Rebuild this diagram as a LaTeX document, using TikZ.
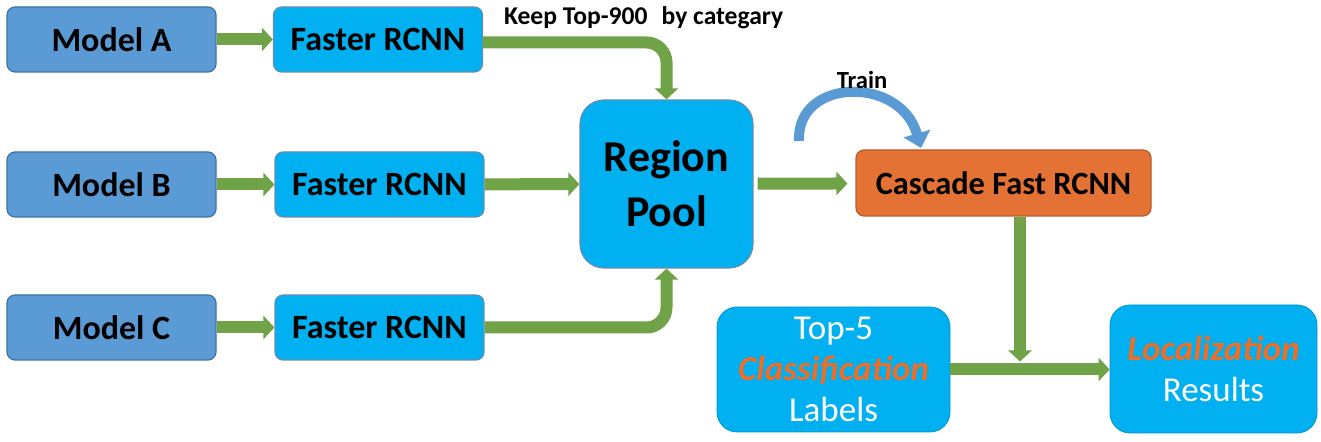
\documentclass[tikz,border=0pt]{standalone}
\usepackage{fontspec}
\setmainfont{Carlito}
\usetikzlibrary{arrows.meta,positioning,calc}
\definecolor{modelblue}{RGB}{91,155,213}
\definecolor{modeledge}{RGB}{65,113,156}
\definecolor{rcnnblue}{RGB}{0,176,240}
\definecolor{cascorange}{RGB}{228,114,52}
\definecolor{flowgreen}{RGB}{112,163,72}
\definecolor{hilite}{RGB}{237,110,40}
\tikzset{
  modelbox/.style={draw=modeledge, line width=0.6pt, fill=modelblue, rounded corners=4pt,
    minimum width=104.5pt, minimum height=32.5pt, inner sep=0pt,
    font=\bfseries\fontsize{17}{20}\selectfont, text=black},
  rcnnbox/.style={modelbox, draw=modeledge!80, fill=rcnnblue},
  poolbox/.style={rcnnbox, rounded corners=12pt, minimum width=86.5pt, minimum height=84pt,
    align=center, font=\bfseries\fontsize{22}{27.5}\selectfont},
  cascbox/.style={modelbox, draw=cascorange!80!black, fill=cascorange, minimum width=147.5pt,
    minimum height=33pt, font=\bfseries\fontsize{16.2}{19}\selectfont},
  outbox/.style={draw=rcnnblue!85!black, line width=0.4pt, fill=rcnnblue, rounded corners=10pt,
    inner sep=0pt, align=center, text=white, font=\fontsize{17.5}{20.5}\selectfont},
  flow/.style={-{Triangle[length=5.5pt,width=11.5pt]}, line width=6pt, draw=flowgreen},
  trainln/.style={-{Triangle[length=7.5pt,width=13.5pt]}, line width=5pt, draw=modelblue},
  notetext/.style={font=\bfseries\fontsize{12.8}{15}\selectfont, text=black},
}
\newcommand{\hl}[1]{\textbf{\textit{\color{hilite}#1}}}

\begin{document}
\begin{tikzpicture}[x=0.5pt, y=-0.5pt]
    \useasboundingbox (0,0) rectangle (1321,442);
    % Models and their detectors
    \foreach \m/\y/\fx in {A/39.5/378, B/184.5/379.5, C/327.5/379.5} {
      \node[modelbox] (model\m) at (111.5,\y) {Model \m};
      \node[rcnnbox] (frcnn\m) at (\fx,\y) {Faster RCNN};
      \draw[flow] (model\m) -- (frcnn\m);
    }
    % Pool and cascade
    \node[poolbox] (pool) at (666.5,184) {Region\\Pool};
    \node[cascbox] (casc) at (1003.5,183) {Cascade Fast RCNN};
    % Outputs
    \node[outbox, minimum width=116.5pt, minimum height=62.5pt] (cls) at (833.5,369.5)
      {Top-5\\\hl{Classification}\\Labels};
    \node[outbox, minimum width=103.5pt, minimum height=64pt] (loc) at (1213.5,369)
      {\hl{Localization}\\Results};
    % Connectors into the pool
    \draw[flow, rounded corners=10pt] ([yshift=-1.5pt]frcnnA.east) -| (pool.north);
    \draw[flow] (frcnnB) -- (pool);
    \draw[flow, rounded corners=10pt] (frcnnC.east) -| (pool.south);
    \draw[flow, shorten <=2pt, shorten >=4pt] (pool) -- (casc);
    % Cascade result joins the classification line
    \coordinate (join) at ([xshift=8.25pt]casc.south |- cls.east);
    \draw[flow, shorten >=4pt] ([xshift=8.25pt]casc.south) -- (join);
    \draw[flow] (cls.east) -- (loc.west |- cls.east);
    % Train loop
    \coordinate (trainfoot) at (799,141);
    \coordinate (traintip) at (921,148);
    \draw[trainln] (trainfoot) .. controls (796,78) and (900,75) .. (traintip);
    \node[notetext, font=\bfseries\fontsize{12.3}{14}\selectfont] (trainlbl) at (862,80) {Train};
    \node[notetext, right] (keeplbl) at (497,18) {Keep Top-900\hspace{7pt}by categary};
\end{tikzpicture}
\end{document}
